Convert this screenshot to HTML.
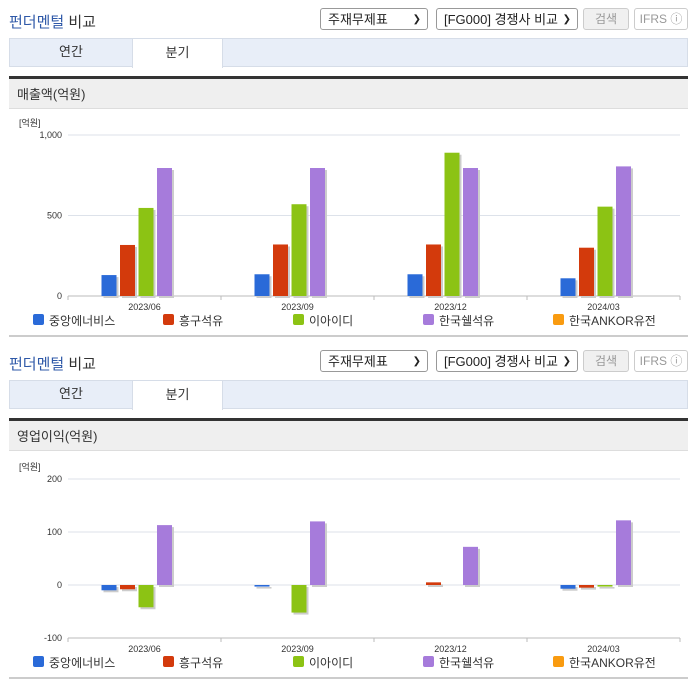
<!DOCTYPE html>
<html><head><meta charset="utf-8">
<style>
body{margin:0;width:696px;height:684px;background:#fff;font-family:"Liberation Sans","Noto Sans CJK KR",sans-serif;position:relative;overflow:hidden}
.sec{position:absolute;left:0;width:696px;height:342px}
.title{position:absolute;left:9px;top:11px;font-size:15px;color:#333}
.title b{color:#2f59a8;font-weight:normal}
.sel{position:absolute;top:8px;height:22px;border:1px solid #999;border-radius:3px;font-size:13px;line-height:22px;padding-left:7px;box-sizing:border-box;background:#fff;color:#222}
.sel span{position:absolute;right:6px;top:0;font-size:10px}
.btn{position:absolute;top:8px;height:22px;border:1px solid #ccc;border-radius:3px;font-size:12px;line-height:20px;text-align:center;box-sizing:border-box;color:#999;background:#f0f0f0}
.tabs{position:absolute;left:9px;top:38px;width:679px;height:29px;background:#e8eef8;border:1px solid #d6dde8;box-sizing:border-box}
.tab{position:absolute;top:-1px;height:30px;line-height:28px;text-align:center;font-size:13px;color:#333}
.dark{position:absolute;left:9px;top:76px;width:679px;height:3px;background:#333}
.hdr{position:absolute;left:9px;top:79px;width:679px;height:30px;background:#efefef;border-bottom:1px solid #ddd;font-size:13px;line-height:32px;padding-left:8px;box-sizing:border-box;color:#333}
.bot{position:absolute;left:9px;top:335px;width:679px;height:2px;background:#ccc}
svg{position:absolute;left:0;top:0}
</style></head><body>
<div id="s1" class="sec" style="top:0"></div>
<div id="s2" class="sec" style="top:342px"></div>
<script>
const categories=["2023/06","2023/09","2023/12","2024/03"];
const seriesNames=["중앙에너비스","흥구석유","이아이디","한국쉘석유","한국ANKOR유전"];
const seriesColors=["#2a6ad8","#d33a0c","#8cc314","#a67bdb","#f99b10"];
const revenue0=[130,135,135,110];
const revenue1=[317,320,320,300];
const revenue2=[547,570,890,555];
const revenue3=[795,795,795,805];
const revenue4=[0,0,0,0];
const revTicks=[0,500,1000];
const revTickLabels=["0","500","1,000"];
const profit0=[-10,-3,0,-7];
const profit1=[-8,0,5,-5];
const profit2=[-42,-52,0,-3];
const profit3=[113,120,72,122];
const profit4=[0,0,0,0];
const profTicks=[-100,0,100,200];
const profTickLabels=["-100","0","100","200"];

const NS="http://www.w3.org/2000/svg";
function mk(tag,attrs,parent){const e=document.createElementNS(NS,tag);for(const k in attrs)e.setAttribute(k,attrs[k]);parent.appendChild(e);return e;}
function header(sec,label){
  sec.innerHTML=`<div class="title"><b>펀더멘털</b> 비교</div>
  <div class="sel" style="left:320px;width:108px">주재무제표<span>&#10095;</span></div>
  <div class="sel" style="left:436px;width:142px">[FG000] 경쟁사 비교<span>&#10095;</span></div>
  <div class="btn" style="left:583px;width:46px">검색</div>
  <div class="btn" style="left:634px;width:54px;background:#fff">IFRS ⓘ</div>
  <div class="tabs">
   <div class="tab" style="left:0;width:122px">연간</div>
   <div class="tab" style="left:122px;width:91px;background:#fff;border:1px solid #d6dde8;border-bottom:none;box-sizing:border-box">분기</div>
  </div>
  <div class="dark"></div>
  <div class="hdr">${label}</div>
  <div class="bot"></div>`;
}
function draw(sec,series,ticks,tickLabels,ymin,ymax,yTop,yBot){
  const svg=mk("svg",{width:696,height:342},sec);
  
  
  const x0=68,x1=680,gw=(x1-x0)/categories.length;
  const y=v=>yBot-(v-ymin)/(ymax-ymin)*(yBot-yTop);
  const u=mk("text",{x:19,y:yTop-9,"font-size":9,fill:"#333"},svg);u.textContent="[억원]";
  ticks.forEach((t,i)=>{
    mk("line",{x1:x0,x2:x1,y1:y(t),y2:y(t),stroke:t===ymin?"#bbb":"#dde2ea"},svg);
    const tx=mk("text",{x:62,y:y(t)+3,"font-size":9,fill:"#333","text-anchor":"end"},svg);
    
    tx.textContent=tickLabels[i];
  });
  for(let i=0;i<=categories.length;i++)mk("line",{x1:x0+i*gw,x2:x0+i*gw,y1:yBot,y2:yBot+4,stroke:"#bbb"},svg);
  categories.forEach((c,ci)=>{
    const cx=x0+gw*(ci+0.5);
    const tx=mk("text",{x:cx,y:yBot+14,"font-size":9,fill:"#333","text-anchor":"middle"},svg);
    
    tx.textContent=c;
    series.forEach((s,si)=>{
      const v=s[ci];if(v===0)return;
      const bx=cx-43+si*18.5,top=Math.min(y(v),y(0)),h=Math.abs(y(v)-y(0));
      mk("rect",{x:bx+2,y:top+2,width:15,height:h,fill:"#ccc"},svg);
      const r=mk("rect",{x:bx,y:top,width:15,height:h,fill:seriesColors[si]},svg);
      
      
    });
  });
  const lx=[33,163,293,423,553];
  seriesNames.forEach((n,i)=>{
    const g=mk("g",{},svg);
    
    
    mk("rect",{x:lx[i],y:314,width:11,height:11,rx:2,fill:seriesColors[i]},g);
    const t=mk("text",{x:lx[i]+16,y:325,"font-size":12,fill:"#333"},g);t.textContent=n;
  });
}
const s1=document.getElementById("s1"),s2=document.getElementById("s2");
header(s1,"매출액(억원)");header(s2,"영업이익(억원)");
draw(s1,[revenue0,revenue1,revenue2,revenue3,revenue4],revTicks,revTickLabels,0,1000,135,296);
draw(s2,[profit0,profit1,profit2,profit3,profit4],profTicks,profTickLabels,-100,200,137,296);
</script>
</body></html>
